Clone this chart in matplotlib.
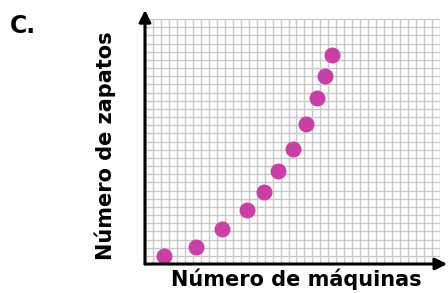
import matplotlib.pyplot as plt
import numpy as np

# machines vs shoes
machines = [2.4, 6.4, 9.7, 12.8, 14.9, 16.7, 18.5, 20.2, 21.6, 22.6, 23.5]
shoes = [1.0, 2.1, 4.3, 6.6, 8.85, 11.4, 14.1, 17.2, 20.35, 23.0, 25.6]

nCols = 37
nRows = 30

fig = plt.figure(figsize=(4.48, 2.93), dpi=100)
ax = fig.add_axes([145/448, 29/293, 295/448, 245/293])

ax.set_xlim(0, nCols)
ax.set_ylim(0, nRows)
ax.set_xticks(np.arange(0, nCols+1))
ax.set_yticks(np.arange(0, nRows+1))
ax.grid(True, color="#c8c8c8", linewidth=1.0)
ax.tick_params(length=0, labelbottom=False, labelleft=False)
for s in ax.spines.values():
    s.set_visible(False)
ax.set_axisbelow(True)

ax.scatter(machines, shoes, s=110, color="#c93fa5", zorder=3, clip_on=False)

# axes with arrows
ax.annotate("", xy=(0, nRows+1.1), xytext=(0, 0), xycoords="data",
            arrowprops=dict(arrowstyle="-|>,head_width=0.35,head_length=0.7",
                            color="black", lw=2.2, shrinkA=0, shrinkB=0),
            annotation_clip=False)
ax.annotate("", xy=(nCols+0.9, 0), xytext=(0, 0), xycoords="data",
            arrowprops=dict(arrowstyle="-|>,head_width=0.35,head_length=0.7",
                            color="black", lw=2.2, shrinkA=0, shrinkB=0),
            annotation_clip=False)

fig.text(296/448, 1-279/293, "Número de máquinas", fontsize=15, fontweight="bold",
         ha="center", va="center")
fig.text(105/448, 1-146/293, "Número de zapatos", fontsize=15, fontweight="bold",
         ha="center", va="center", rotation=90)
fig.text(10/448, 1-26/293, "C.", fontsize=17, fontweight="bold",
         ha="left", va="center")

fig.savefig("out.png", dpi=100)
